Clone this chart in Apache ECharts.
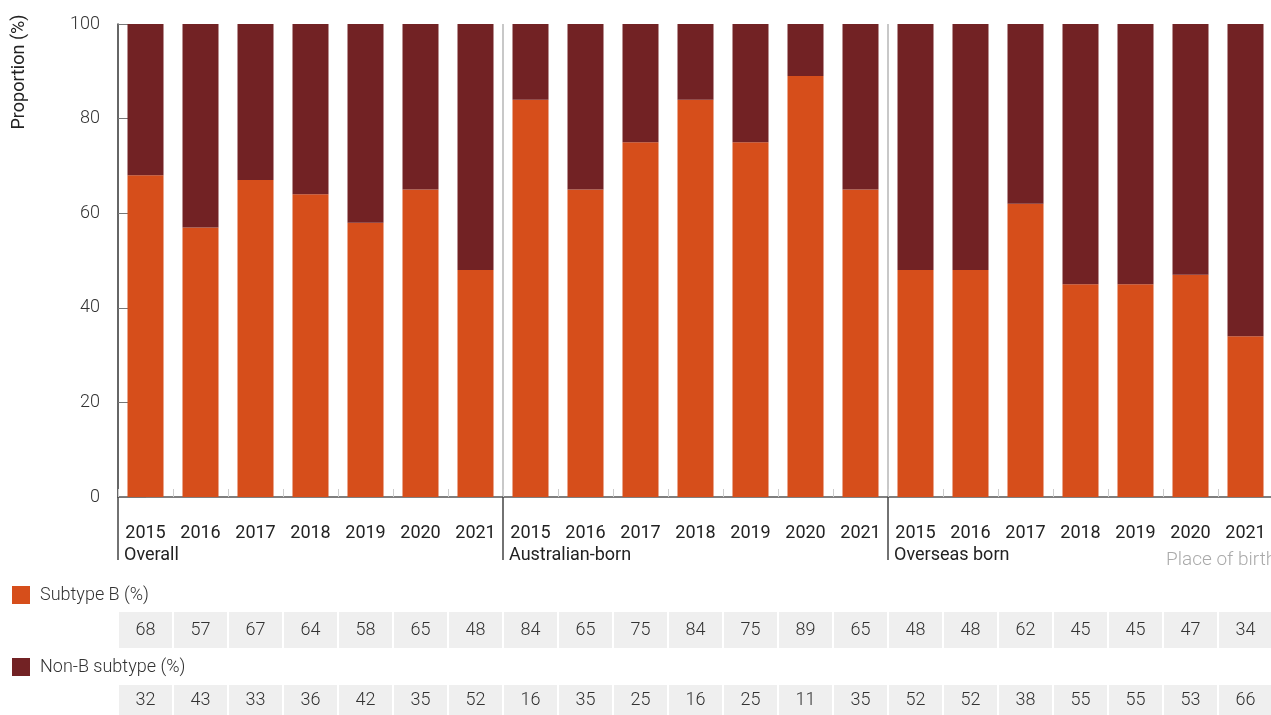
<!DOCTYPE html>
<html>
<head>
<meta charset="utf-8">
<title></title>
<style type="text/css">
html, body { margin: 0; padding: 0; background: #fff; overflow: hidden; }
#main { width: 1276px; height: 715px; }
</style>
</head>
<body>
<div id="main"></div>
<script src="https://cdn.jsdelivr.net/npm/echarts@6/dist/echarts.min.js"></script>
<script type="text/javascript">
// data
var groups = ['Overall', 'Australian-born', 'Overseas born'];
var years = ['2015', '2016', '2017', '2018', '2019', '2020', '2021'];
var subtypeB = [68, 57, 67, 64, 58, 65, 48, 84, 65, 75, 84, 75, 89, 65, 48, 48, 62, 45, 45, 47, 34];
var nonB = [32, 43, 33, 36, 42, 35, 52, 16, 35, 25, 16, 25, 11, 35, 52, 52, 38, 55, 55, 53, 66];
var yTicks = [0, 20, 40, 60, 80, 100];

var nameB = 'Subtype B (%)';
var nameNonB = 'Non-B subtype (%)';

// one category per group/year
var cats = [];
for (var g = 0; g < groups.length; g++) {
  for (var y = 0; y < years.length; y++) {
    cats.push(groups[g] + '|' + years[y]);
  }
}

function tableData(vals) {
  var out = [];
  for (var i = 0; i < vals.length; i++) out.push([i, vals[i]]);
  return out;
}

var font = 'Roboto';

function cellRender(params, api) {
  var bottom = api.coord([api.value(0), 0]);
  var top = api.coord([api.value(0), 1]);
  var w = api.size([1, 0])[0];
  return {
    type: 'group',
    children: [
      {
        type: 'rect',
        shape: { x: bottom[0] - w / 2 + 1, y: top[1], width: w - 2, height: bottom[1] - top[1] },
        style: { fill: '#efefef' }
      },
      {
        type: 'text',
        style: {
          text: String(api.value(1)),
          x: bottom[0], y: (bottom[1] + top[1]) / 2,
          align: 'center', verticalAlign: 'middle',
          fill: '#333', fontSize: 18, fontWeight: 300, fontFamily: font
        }
      }
    ]
  };
}

var chart = echarts.init(document.getElementById('main'));

var option = {
  animation: false,
  textStyle: { fontFamily: font },
  grid: [
    { left: 118, top: 24, width: 1155, height: 473 },
    { left: 118, top: 612, width: 1155, height: 36 },
    { left: 118, top: 685, width: 1155, height: 36 }
  ],
  legend: [
    {
      data: [nameB], left: 12, top: 586, padding: 0, icon: 'rect', itemWidth: 18, itemHeight: 18,
      textStyle: { fontSize: 18, fontWeight: 300, color: '#333', fontFamily: font, padding: [0, 0, 0, 5] }
    },
    {
      data: [nameNonB], left: 12, top: 658, padding: 0, icon: 'rect', itemWidth: 18, itemHeight: 18,
      textStyle: { fontSize: 18, fontWeight: 300, color: '#333', fontFamily: font, padding: [0, 0, 0, 5] }
    }
  ],
  xAxis: [
    {
      type: 'category', gridIndex: 0, data: cats, position: 'bottom',
      axisLine: { show: true, lineStyle: { color: '#555', width: 1.5 } },
      axisTick: { show: true, inside: true, length: 8, interval: 0, lineStyle: { color: '#ccc' } },
      axisLabel: {
        interval: 0, margin: 27, fontSize: 18, color: '#222', fontFamily: font,
        formatter: function (v) { return v.split('|')[1]; }
      },
      splitLine: { show: false }
    },
    {
      type: 'value', gridIndex: 0, min: 0, max: 21, interval: 7, position: 'bottom',
      axisLine: { show: false },
      axisTick: { show: true, length: 63, lineStyle: { color: '#444', width: 1.5 } },
      axisLabel: {
        margin: 49, fontSize: 18, color: '#222', fontFamily: font, align: 'left',
        padding: [0, 0, 0, 6],
        showMaxLabel: true,
        formatter: function (v) { return groups[v / 7] || ''; }
      },
      splitLine: { show: true, lineStyle: { color: ['transparent', '#c8c8c8', '#c8c8c8', 'transparent'], width: 2 } }
    },
    {
      type: 'category', gridIndex: 1, data: cats,
      axisLine: { show: false }, axisTick: { show: false }, axisLabel: { show: false }
    },
    {
      type: 'category', gridIndex: 2, data: cats,
      axisLine: { show: false }, axisTick: { show: false }, axisLabel: { show: false }
    }
  ],
  yAxis: [
    {
      type: 'value', gridIndex: 0, min: yTicks[0], max: yTicks[yTicks.length - 1], interval: 20,
      axisLine: { show: true, lineStyle: { color: '#333', width: 1.5 } },
      axisTick: { show: true, inside: true, length: 28, lineStyle: { color: '#777' } },
      axisLabel: { margin: 18, fontSize: 18, fontWeight: 300, color: '#333', fontFamily: font },
      splitLine: { show: false }
    },
    { type: 'value', gridIndex: 1, min: 0, max: 1, show: false },
    { type: 'value', gridIndex: 2, min: 0, max: 1, show: false }
  ],
  graphic: [
    {
      type: 'text', x: 19, y: 72, rotation: Math.PI / 2,
      style: { text: 'Proportion (%)', align: 'center', verticalAlign: 'middle', fill: '#222', fontSize: 18, fontFamily: font }
    },
    {
      type: 'text', x: 1166, y: 560,
      style: { text: 'Place of birth', align: 'left', verticalAlign: 'middle', fill: '#aaa', fontSize: 19, fontWeight: 300, fontFamily: font }
    }
  ],
  series: [
    {
      name: nameB, type: 'bar', stack: 'total', xAxisIndex: 0, yAxisIndex: 0,
      barWidth: 36, data: subtypeB, itemStyle: { color: '#d64e1b' }
    },
    {
      name: nameNonB, type: 'bar', stack: 'total', xAxisIndex: 0, yAxisIndex: 0,
      barWidth: 36, data: nonB, itemStyle: { color: '#722224' }
    },
    {
      name: 'rowB', type: 'custom', xAxisIndex: 2, yAxisIndex: 1,
      data: tableData(subtypeB), renderItem: cellRender
    },
    {
      name: 'rowNonB', type: 'custom', xAxisIndex: 3, yAxisIndex: 2,
      data: tableData(nonB), renderItem: cellRender
    }
  ]
};

chart.setOption(option);
</script>
</body>
</html>
